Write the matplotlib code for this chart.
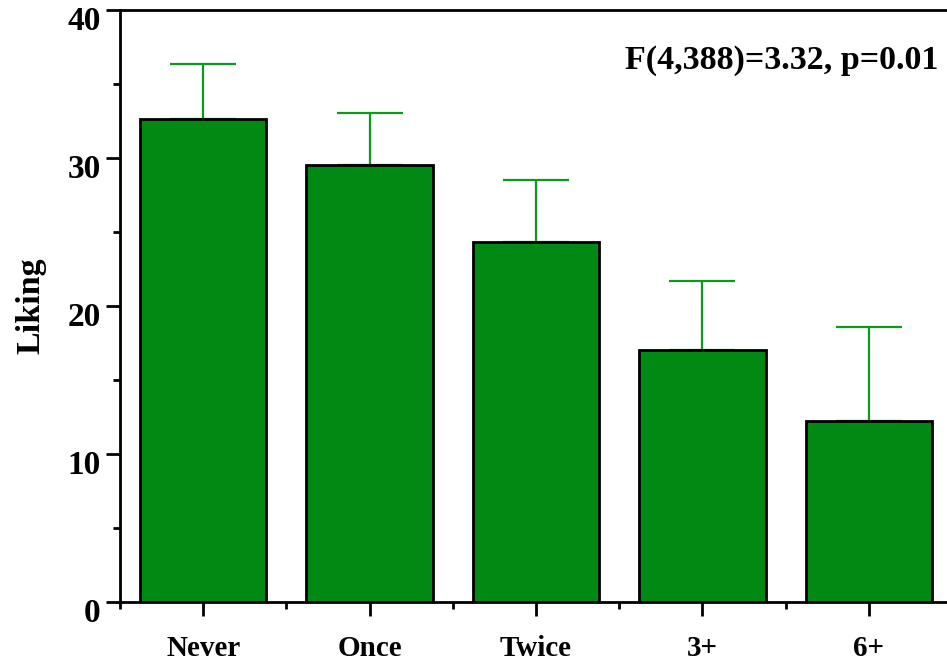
import matplotlib
matplotlib.use("Agg")
import matplotlib.pyplot as plt
import matplotlib.transforms as mtransforms
from matplotlib.ticker import MultipleLocator, FixedLocator

categories = ["Never", "Once", "Twice", "3+", "6+"]
means = [32.65, 29.5, 24.3, 17.0, 12.2]
errors = [3.7, 3.55, 4.2, 4.7, 6.4]
annotation = "F(4,388)=3.32, p=0.01"

plt.rcParams['font.family'] = ['Liberation Serif', 'DejaVu Serif']
plt.rcParams['font.weight'] = 'bold'

fig = plt.figure(figsize=(9.47, 6.61), dpi=100)
ax = fig.add_axes([120/947, 59/661, 1 - 120/947, (602-10)/661])

x = list(range(len(categories)))
ax.bar(x, means, width=0.76, color='#008a14', edgecolor='black', linewidth=2, zorder=2)
ax.errorbar(x, means, yerr=[[0]*len(errors), errors], fmt='none', ecolor='#0a9a1e',
            elinewidth=1.6, capsize=23.5, capthick=1.6, zorder=1)

ax.set_xlim(-0.5, 4.47)
ax.set_ylim(0, 40)
ax.set_xticks(x)
ax.set_xticklabels(categories, fontsize=21, fontweight='bold')
ax.xaxis.set_minor_locator(FixedLocator([-0.5, 0.5, 1.5, 2.5, 3.5]))
ax.yaxis.set_major_locator(MultipleLocator(10))
ax.yaxis.set_minor_locator(MultipleLocator(5))

ax.tick_params(axis='both', which='major', length=10, width=2, direction='out')
ax.tick_params(axis='both', which='minor', length=5, width=2, direction='out')
ax.tick_params(axis='y', which='major', pad=4, labelsize=24)
ax.tick_params(axis='x', which='major', pad=14)
ax.spines['right'].set_visible(False)
for s in ['left', 'top', 'bottom']:
    ax.spines[s].set_linewidth(2)

shift = mtransforms.ScaledTranslation(0, -8/100, fig.dpi_scale_trans)
for lab in ax.get_yticklabels():
    lab.set_fontweight('bold')
    lab.set_transform(lab.get_transform() + shift)

ax.set_ylabel("Liking", fontsize=24.5, fontweight='bold', labelpad=15)
ax.text(0.989, 0.915, annotation, transform=ax.transAxes, ha='right', va='center',
        fontsize=24.5, fontweight='bold')

fig.savefig("out.png", dpi=100)
